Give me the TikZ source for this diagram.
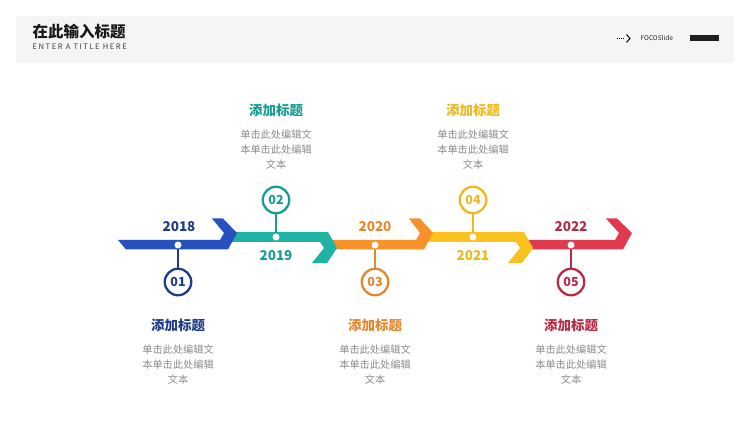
\documentclass[tikz,border=0pt]{standalone}
\usepackage{fontspec}
\setmainfont{Noto Sans CJK SC}
\definecolor{hdr}{HTML}{F5F5F7}
\definecolor{cblue}{HTML}{2651BE}
\definecolor{tblue}{HTML}{1F3C88}
\definecolor{cteal}{HTML}{1FB3A4}
\definecolor{tteal}{HTML}{179E92}
\definecolor{corange}{HTML}{F7922B}
\definecolor{torange}{HTML}{E5882D}
\definecolor{cyellow}{HTML}{F9C21E}
\definecolor{tyellow}{HTML}{EDB91F}
\definecolor{cred}{HTML}{E03A50}
\definecolor{tred}{HTML}{B82B44}
\definecolor{desc}{HTML}{8A8A8A}
\tikzset{
  dotnode/.style={circle,fill=white,inner sep=0pt,minimum size=7pt},
  numcircle/.style={circle,draw=#1,line width=2.3pt,fill=white,minimum size=26.5pt,inner sep=0pt,text=#1,font=\fontsize{12.5}{14}\selectfont\bfseries},
  yearlbl/.style={text=#1,font=\fontsize{13.5}{16}\selectfont\bfseries},
  titlelbl/.style={text=#1,font=\fontsize{13.5}{16}\selectfont\bfseries},
  desclbl/.style={text=desc,align=center,font=\fontsize{10.2}{15.2}\selectfont},
  conn/.style={draw=#1,line width=1.2pt}
}
\begin{document}
\begin{tikzpicture}[x=1pt,y=-1pt]
\useasboundingbox (0,0) rectangle (750,422);
% header
\fill[hdr] (16,16) rectangle (734,63);
\node[anchor=west,inner sep=0pt,font=\fontsize{15.5}{18}\selectfont\bfseries,text=black!90] (title) at (32.5,32) {在此输入标题};
\node[anchor=west,inner sep=0pt,font=\fontsize{7.6}{9}\selectfont\addfontfeatures{LetterSpace=20},text=black!75] (subtitle) at (32.5,46.5) {ENTER A TITLE HERE};
\draw[line width=0.8pt,dash pattern=on 0.9pt off 1.2pt] (617,38.5) -- (624.5,38.5);
\draw[line width=1pt] (626.5,34.5) -- (630,38.5) -- (626.5,42.5);
\node[anchor=west,inner sep=0pt,font=\fontsize{6.5}{8}\selectfont,text=black!85] (brand) at (640.5,38) {FOCOSlide};
\fill[black!88] (690,35.5) rectangle (719,41);
% ribbon segments (drawn back to front)
\fill[cred] (520,240) -- (615,240) -- (619,233) -- (606,218.5) -- (617,218.5) -- (632,233) -- (623,249.5) -- (520,249.5) -- cycle;
\fill[cyellow] (422,232) -- (524,232) -- (533,248) -- (522,263) -- (508,263) -- (520,248) -- (516,242) -- (422,242) -- cycle;
\fill[corange] (325,240) -- (416,240) -- (420,233) -- (409,218.5) -- (420,218.5) -- (433,233) -- (424,249.5) -- (325,249.5) -- cycle;
\fill[cteal] (225,232) -- (328,232) -- (337,248) -- (327,263) -- (312,263) -- (324,248) -- (320,242) -- (225,242) -- cycle;
\fill[cblue] (118,240) -- (220,240) -- (224,233) -- (212,218.5) -- (223,218.5) -- (237,233) -- (228,249.5) -- (126,249.5) -- cycle;
% dots
\node[dotnode] (d1) at (178,245) {};
\node[dotnode] (d2) at (276,237) {};
\node[dotnode] (d3) at (375,245) {};
\node[dotnode] (d4) at (473,237) {};
\node[dotnode] (d5) at (571,245) {};
% number circles
\node[numcircle=tblue] (c1) at (178,282) {01};
\node[numcircle=tteal] (c2) at (276,200) {02};
\node[numcircle=torange] (c3) at (375,282) {03};
\node[numcircle=tyellow] (c4) at (473,200) {04};
\node[numcircle=tred] (c5) at (571,282) {05};
\draw[conn=tblue] (d1) -- (c1);
\draw[conn=tteal] (d2) -- (c2);
\draw[conn=torange] (d3) -- (c3);
\draw[conn=tyellow] (d4) -- (c4);
\draw[conn=tred] (d5) -- (c5);
% years
\node[yearlbl=tblue] (y1) at (179,227) {2018};
\node[yearlbl=tteal] (y2) at (276,256) {2019};
\node[yearlbl=torange] (y3) at (375,227) {2020};
\node[yearlbl=tyellow] (y4) at (473,256) {2021};
\node[yearlbl=tred] (y5) at (571,227) {2022};
% titles
\node[titlelbl=tblue] (t1) at (178,325) {添加标题};
\node[titlelbl=tteal] (t2) at (276,110) {添加标题};
\node[titlelbl=torange] (t3) at (375,325) {添加标题};
\node[titlelbl=tyellow] (t4) at (473,110) {添加标题};
\node[titlelbl=tred] (t5) at (571,325) {添加标题};
% descriptions
\node[desclbl] (e1) at (178,364.5) {单击此处编辑文\\本单击此处编辑\\文本};
\node[desclbl] (e2) at (276,149.5) {单击此处编辑文\\本单击此处编辑\\文本};
\node[desclbl] (e3) at (375,364.5) {单击此处编辑文\\本单击此处编辑\\文本};
\node[desclbl] (e4) at (473,149.5) {单击此处编辑文\\本单击此处编辑\\文本};
\node[desclbl] (e5) at (571,364.5) {单击此处编辑文\\本单击此处编辑\\文本};
\end{tikzpicture}
\end{document}
